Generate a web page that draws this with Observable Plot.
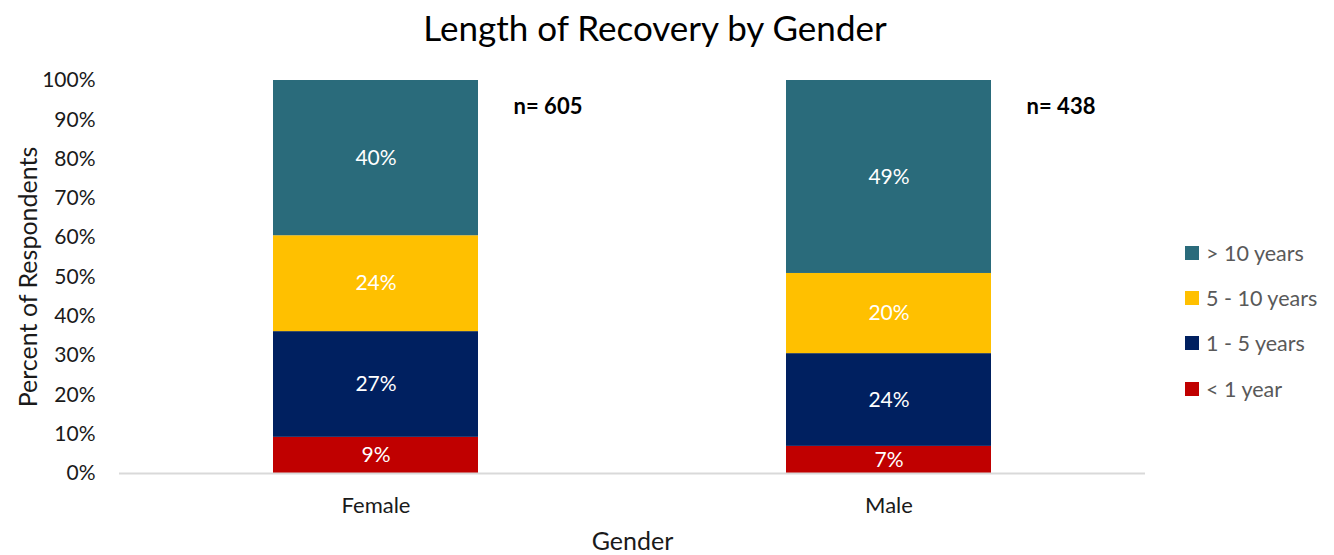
<!DOCTYPE html>
<html>
<head>
<meta charset="utf-8">
<script src="https://cdn.jsdelivr.net/npm/d3@7"></script>
<script src="https://cdn.jsdelivr.net/npm/@observablehq/plot@0.6"></script>
<style>
  html, body { margin: 0; padding: 0; background: #fff; }
  body { width: 1334px; height: 555px; position: relative; overflow: hidden; font-family: Lato, "Open Sans", sans-serif; }
  #title { height: 55px; line-height: 54px; font-size: 35px; color: #000; text-align: center; padding-right: 24px; }
  #legend { position: absolute; left: 1185px; top: 230px; font-size: 21.5px; color: #595959; }
  .item { height: 45.3px; display: flex; align-items: center; }
  .sw { width: 14px; height: 14px; margin-right: 7px; }
</style>
</head>
<body>
<div id="title">Length of Recovery by Gender</div>
<div id="chart"></div>
<div id="legend"></div>
<script>
const genders = ["Female", "Male"];
const categories = ["< 1 year", "1 - 5 years", "5 - 10 years", "> 10 years"];
const colors = ["#C00000", "#002060", "#FFC000", "#2A6B7B"];
const femaleValues = [9.2, 26.9, 24.4, 39.5];
const maleValues = [6.9, 23.6, 20.4, 49.1];
const sampleSizes = [605, 438];
const yTicks = [0, 10, 20, 30, 40, 50, 60, 70, 80, 90, 100];

const data = [];
[femaleValues, maleValues].forEach((vals, gi) => {
  vals.forEach((v, ci) => data.push({gender: genders[gi], category: categories[ci], value: v}));
});
const nData = genders.map((g, i) => ({gender: g, label: "n= " + sampleSizes[i]}));

const stackOpts = {x: "gender", y: "value", z: "category", order: categories};
const font = "Lato, 'Open Sans', sans-serif";

const plot = Plot.plot({
  width: 1334,
  height: 500,
  marginTop: 25,
  marginBottom: 82,
  marginLeft: 119,
  marginRight: 189,
  style: {fontFamily: font, fontSize: "21px", color: "#1a1a1a"},
  x: {domain: genders, paddingInner: 0.6, paddingOuter: 0.3},
  y: {domain: [0, 100]},
  color: {domain: categories, range: colors},
  marks: [
    Plot.axisX({tickSize: 0, tickPadding: 24, fontSize: 22, label: null}),
    Plot.text(["Gender"], {frameAnchor: "bottom", dy: 76, fontSize: 25, fill: "#1a1a1a"}),
    Plot.axisY({ticks: yTicks, tickFormat: d => d + "%", tickSize: 0, tickPadding: 24, fontSize: 21, label: null}),
    Plot.text(["Percent of Respondents"], {frameAnchor: "left", textAnchor: "middle", dx: -91, rotate: -90, fontSize: 25, fill: "#1a1a1a"}),
    Plot.barY(data, Plot.stackY({...stackOpts, fill: "category"})),
    Plot.text(data, Plot.stackY({...stackOpts, text: d => Math.round(d.value) + "%", fill: "white", fontSize: 21})),
    Plot.ruleY([0], {stroke: "#d9d9d9", strokeWidth: 2}),
    Plot.text(nData, {x: "gender", y: 93.3, text: "label", dx: 172, fontWeight: "bold", fontSize: 22, fill: "#000"})
  ]
});
document.getElementById("chart").appendChild(plot);

const legend = document.getElementById("legend");
[...categories].reverse().forEach(c => {
  const idx = categories.indexOf(c);
  const item = document.createElement("div");
  item.className = "item";
  item.innerHTML = `<div class="sw" style="background:${colors[idx]}"></div><span>${c}</span>`;
  legend.appendChild(item);
});
</script>
</body>
</html>
